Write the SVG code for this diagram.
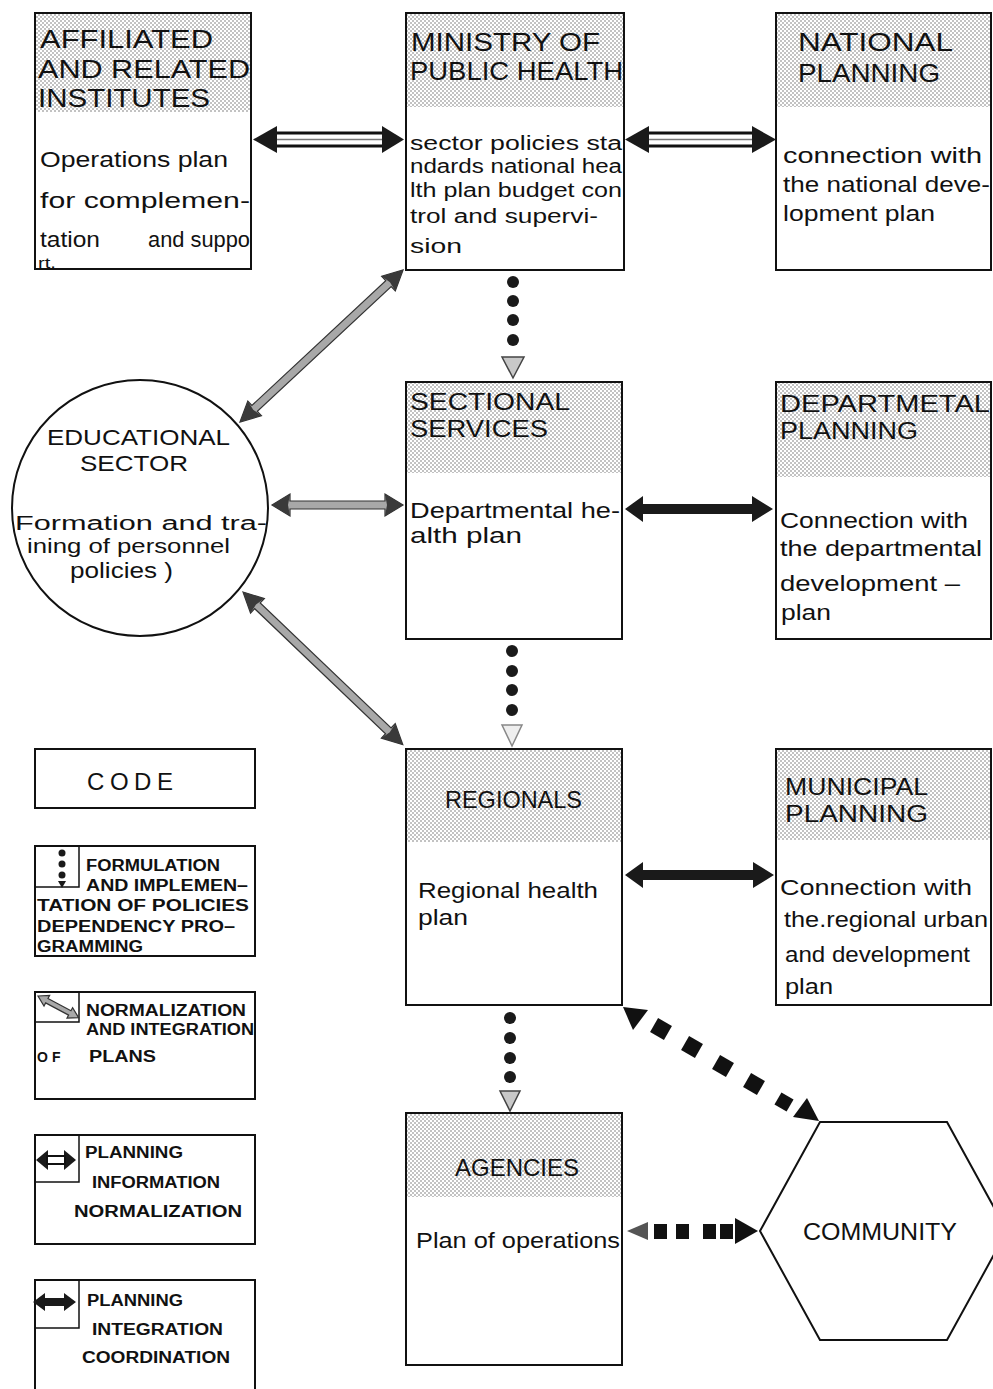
<svg xmlns="http://www.w3.org/2000/svg" width="993" height="1389" viewBox="0 0 993 1389">
<style>
.box{fill:#fff;stroke:#111;stroke-width:2}
.hd{fill:url(#stip);stroke:none}
text{font-family:"Liberation Sans",Arial,sans-serif;fill:#111}
.h{font-size:26px}
.h2{font-size:23px}
.t{font-size:22px}
.m{font-size:20px}
.c{font-size:24px}
.l{font-size:16px;font-weight:bold}
.dot{fill:#1a1a1a}
.tri{fill:#c8c8c8;stroke:#444;stroke-width:1.5}
.solid{fill:#1a1a1a}
.grey{fill:#a8a8a8;stroke:#333;stroke-width:1.2}
.ghead{fill:#3a3a3a}
.sq{fill:#111}
</style>
<defs>
<pattern id="stip" width="4" height="4" patternUnits="userSpaceOnUse">
<rect width="4" height="4" fill="#fff"/>
<circle cx="1" cy="1" r="0.75" fill="#666"/>
<circle cx="3" cy="3" r="0.75" fill="#666"/>
</pattern>
</defs>

<!-- nodes -->
<g id="affiliated">
<rect class="box" x="35" y="13" width="216" height="256"/>
<rect class="hd" x="36" y="14" width="214" height="98"/>
<text class="h" x="40" y="48" textLength="173" lengthAdjust="spacingAndGlyphs">AFFILIATED</text>
<text class="h" x="38" y="78" textLength="212" lengthAdjust="spacingAndGlyphs">AND RELATED</text>
<text class="h" x="38" y="107" textLength="172" lengthAdjust="spacingAndGlyphs">INSTITUTES</text>
<text class="t" x="40" y="167" textLength="188" lengthAdjust="spacingAndGlyphs">Operations plan</text>
<text class="t" x="40" y="208" textLength="210" lengthAdjust="spacingAndGlyphs">for complemen-</text>
<text class="t" x="40" y="247" textLength="60" lengthAdjust="spacingAndGlyphs">tation</text>
<text class="t" x="148" y="247" textLength="102" lengthAdjust="spacingAndGlyphs">and suppo</text>
<text x="38" y="268" style="font-size:15px" textLength="18" lengthAdjust="spacingAndGlyphs">rt.</text>
</g>

<g id="ministry">
<rect class="box" x="406" y="13" width="218" height="257"/>
<rect class="hd" x="407" y="14" width="216" height="93"/>
<text class="h" x="411" y="51" textLength="189" lengthAdjust="spacingAndGlyphs">MINISTRY OF</text>
<text class="h" x="410" y="80" textLength="213" lengthAdjust="spacingAndGlyphs">PUBLIC HEALTH</text>
<text class="m" x="410" y="150" textLength="212" lengthAdjust="spacingAndGlyphs">sector policies sta</text>
<text class="m" x="410" y="173" textLength="212" lengthAdjust="spacingAndGlyphs">ndards national hea</text>
<text class="m" x="410" y="197" textLength="212" lengthAdjust="spacingAndGlyphs">lth plan budget con</text>
<text class="m" x="410" y="223" textLength="188" lengthAdjust="spacingAndGlyphs">trol and supervi-</text>
<text class="m" x="410" y="253" textLength="52" lengthAdjust="spacingAndGlyphs">sion</text>
</g>

<g id="national">
<rect class="box" x="776" y="13" width="215" height="257"/>
<rect class="hd" x="777" y="14" width="213" height="93"/>
<text class="h" x="798" y="51" textLength="155" lengthAdjust="spacingAndGlyphs">NATIONAL</text>
<text class="h" x="798" y="82" textLength="142" lengthAdjust="spacingAndGlyphs">PLANNING</text>
<text class="t" x="783" y="163" textLength="199" lengthAdjust="spacingAndGlyphs">connection with</text>
<text class="t" x="783" y="192" textLength="207" lengthAdjust="spacingAndGlyphs">the national deve-</text>
<text class="t" x="783" y="221" textLength="152" lengthAdjust="spacingAndGlyphs">lopment plan</text>
</g>

<g id="sectional">
<rect class="box" x="406" y="382" width="216" height="257"/>
<rect class="hd" x="407" y="383" width="214" height="90"/>
<text class="h2" x="410" y="410" textLength="160" lengthAdjust="spacingAndGlyphs">SECTIONAL</text>
<text class="h2" x="410" y="437" textLength="138" lengthAdjust="spacingAndGlyphs">SERVICES</text>
<text class="t" x="410" y="518" textLength="210" lengthAdjust="spacingAndGlyphs">Departmental he-</text>
<text class="t" x="410" y="543" textLength="112" lengthAdjust="spacingAndGlyphs">alth plan</text>
</g>

<g id="departmental">
<rect class="box" x="776" y="382" width="215" height="257"/>
<rect class="hd" x="777" y="383" width="213" height="94"/>
<text class="h2" x="780" y="412" textLength="210" lengthAdjust="spacingAndGlyphs">DEPARTMETAL</text>
<text class="h2" x="780" y="439" textLength="138" lengthAdjust="spacingAndGlyphs">PLANNING</text>
<text class="t" x="780" y="528" textLength="188" lengthAdjust="spacingAndGlyphs">Connection with</text>
<text class="t" x="780" y="556" textLength="202" lengthAdjust="spacingAndGlyphs">the departmental</text>
<text class="t" x="780" y="591" textLength="180" lengthAdjust="spacingAndGlyphs">development –</text>
<text class="t" x="781" y="620" textLength="50" lengthAdjust="spacingAndGlyphs">plan</text>
</g>

<g id="regionals">
<rect class="box" x="406" y="749" width="216" height="256"/>
<rect class="hd" x="407" y="750" width="214" height="92"/>
<text class="c" x="445" y="808" textLength="137" lengthAdjust="spacingAndGlyphs">REGIONALS</text>
<text class="t" x="418" y="898" textLength="180" lengthAdjust="spacingAndGlyphs">Regional health</text>
<text class="t" x="418" y="925" textLength="50" lengthAdjust="spacingAndGlyphs">plan</text>
</g>

<g id="municipal">
<rect class="box" x="776" y="749" width="215" height="256"/>
<rect class="hd" x="777" y="750" width="213" height="90"/>
<text class="h2" x="785" y="795" textLength="143" lengthAdjust="spacingAndGlyphs">MUNICIPAL</text>
<text class="h2" x="785" y="822" textLength="143" lengthAdjust="spacingAndGlyphs">PLANNING</text>
<text class="t" x="780" y="895" textLength="192" lengthAdjust="spacingAndGlyphs">Connection with</text>
<text class="t" x="784" y="927" textLength="204" lengthAdjust="spacingAndGlyphs">the.regional urban</text>
<text class="t" x="785" y="962" textLength="185" lengthAdjust="spacingAndGlyphs">and development</text>
<text class="t" x="785" y="994" textLength="48" lengthAdjust="spacingAndGlyphs">plan</text>
</g>

<g id="agencies">
<rect class="box" x="406" y="1113" width="216" height="252"/>
<rect class="hd" x="407" y="1114" width="214" height="83"/>
<text class="c" x="455" y="1176" textLength="124" lengthAdjust="spacingAndGlyphs">AGENCIES</text>
<text class="t" x="416" y="1248" textLength="204" lengthAdjust="spacingAndGlyphs">Plan of operations</text>
</g>

<g id="educational">
<circle cx="140" cy="508" r="128" fill="#fff" stroke="#111" stroke-width="2"/>
<text x="47" y="445" style="font-size:22px" textLength="183" lengthAdjust="spacingAndGlyphs">EDUCATIONAL</text>
<text x="80" y="471" style="font-size:22px" textLength="108" lengthAdjust="spacingAndGlyphs">SECTOR</text>
<text x="15" y="530" style="font-size:20px" textLength="252" lengthAdjust="spacingAndGlyphs">Formation  and tra-</text>
<text x="27" y="553" style="font-size:20px" textLength="203" lengthAdjust="spacingAndGlyphs">ining of personnel</text>
<text x="70" y="578" style="font-size:22px" textLength="103" lengthAdjust="spacingAndGlyphs">policies )</text>
</g>

<g id="community">
<polygon points="760,1231 820,1122 947,1122 1007,1231 947,1340 820,1340" fill="#fff" stroke="#111" stroke-width="2"/>
<text class="c" x="803" y="1240" textLength="154" lengthAdjust="spacingAndGlyphs">COMMUNITY</text>
</g>

<!-- legend -->
<g id="legend-code">
<rect class="box" x="35" y="749" width="220" height="59"/>
<text class="c" x="87" y="790" letter-spacing="6" textLength="92" lengthAdjust="spacing">CODE</text>
</g>
<g id="legend-formulation">
<rect class="box" x="35" y="846" width="220" height="110"/>
<rect x="35" y="846" width="44" height="41" fill="none" stroke="#111" stroke-width="1.5"/>
<circle class="dot" cx="62" cy="853" r="3.5"/>
<circle class="dot" cx="62" cy="864" r="3.5"/>
<circle class="dot" cx="62" cy="875" r="3.5"/>
<polygon class="solid" points="58,881 66,881 62,888"/>
<text class="l" x="86" y="871" textLength="134" lengthAdjust="spacingAndGlyphs">FORMULATION</text>
<text class="l" x="86" y="891" textLength="162" lengthAdjust="spacingAndGlyphs">AND IMPLEMEN–</text>
<text class="l" x="37" y="911" textLength="212" lengthAdjust="spacingAndGlyphs">TATION OF POLICIES</text>
<text class="l" x="37" y="932" textLength="198" lengthAdjust="spacingAndGlyphs">DEPENDENCY PRO–</text>
<text class="l" x="37" y="952" textLength="106" lengthAdjust="spacingAndGlyphs">GRAMMING</text>
</g>
<g id="legend-normalization">
<rect class="box" x="35" y="992" width="220" height="107"/>
<rect x="35" y="992" width="44" height="30" fill="none" stroke="#111" stroke-width="1.5"/>
<g transform="translate(38,996) rotate(28)">
<polygon class="grey" points="0,0 10,-6 10,-2.5 36,-2.5 36,-6 46,0 36,6 36,2.5 10,2.5 10,6"/>
</g>
<text class="l" x="86" y="1016" textLength="160" lengthAdjust="spacingAndGlyphs">NORMALIZATION</text>
<text class="l" x="86" y="1035" textLength="168" lengthAdjust="spacingAndGlyphs">AND INTEGRATION</text>
<text class="l" x="37" y="1062" style="font-size:14px" letter-spacing="4">OF</text>
<text class="l" x="89" y="1062" textLength="67" lengthAdjust="spacingAndGlyphs">PLANS</text>
</g>
<g id="legend-information">
<rect class="box" x="35" y="1135" width="220" height="109"/>
<rect x="35" y="1135" width="44" height="47" fill="none" stroke="#111" stroke-width="1.5"/>
<polygon class="solid" points="36,1160 48,1150 48,1170"/>
<polygon class="solid" points="76,1160 64,1150 64,1170"/>
<rect x="47" y="1156" width="18" height="8" fill="#fff" stroke="#111" stroke-width="2"/>
<text class="l" x="85" y="1158" textLength="98" lengthAdjust="spacingAndGlyphs">PLANNING</text>
<text class="l" x="92" y="1188" textLength="128" lengthAdjust="spacingAndGlyphs">INFORMATION</text>
<text class="l" x="74" y="1217" textLength="168" lengthAdjust="spacingAndGlyphs">NORMALIZATION</text>
</g>
<g id="legend-integration">
<path d="M35,1389 V1280 H255 V1389" fill="#fff" stroke="#111" stroke-width="2"/>
<rect x="35" y="1280" width="44" height="48" fill="none" stroke="#111" stroke-width="1.5"/>
<polygon class="solid" points="33,1302 45,1293 45,1298 64,1298 64,1293 76,1302 64,1311 64,1306 45,1306 45,1311"/>
<text class="l" x="87" y="1306" textLength="96" lengthAdjust="spacingAndGlyphs">PLANNING</text>
<text class="l" x="92" y="1335" textLength="131" lengthAdjust="spacingAndGlyphs">INTEGRATION</text>
<text class="l" x="82" y="1363" textLength="148" lengthAdjust="spacingAndGlyphs">COORDINATION</text>
</g>

<!-- connectors -->
<g id="connectors">
<g id="c-aff-min">
<rect x="273" y="133" width="115" height="13" fill="#fff" stroke="#111" stroke-width="3"/>
<line x1="275" y1="139.5" x2="386" y2="139.5" stroke="#777" stroke-width="1.5"/>
<polygon class="solid" points="253,139.5 277,126 277,153"/>
<polygon class="solid" points="404,139.5 382,126 382,153"/>
</g>
<g id="c-min-nat">
<rect x="645" y="133" width="112" height="13" fill="#fff" stroke="#111" stroke-width="3"/>
<line x1="647" y1="139.5" x2="755" y2="139.5" stroke="#777" stroke-width="1.5"/>
<polygon class="solid" points="625,139.5 649,126 649,153"/>
<polygon class="solid" points="776,139.5 752,126 752,153"/>
</g>
<polygon id="c-sec-dep" class="solid" points="625,509 643,496 643,504 752,504 752,496 773,509 752,522 752,514 643,514 643,522"/>
<polygon id="c-reg-mun" class="solid" points="625,875 643,862 643,870 753,870 753,862 774,875 753,888 753,880 643,880 643,888"/>
<g id="c-edu-min" transform="translate(240,422) rotate(-43)">
<polygon class="grey" points="0,0 20,-10 20,-4 203,-4 203,-10 223,0 203,10 203,4 20,4 20,10"/>
<polygon class="ghead" points="0,0 20,-10 18,0 20,10"/>
<polygon class="ghead" points="223,0 203,-10 205,0 203,10"/>
</g>
<g id="c-edu-reg" transform="translate(243,592) rotate(43.7)">
<polygon class="grey" points="0,0 20,-10 20,-4 201,-4 201,-10 221,0 201,10 201,4 20,4 20,10"/>
<polygon class="ghead" points="0,0 20,-10 18,0 20,10"/>
<polygon class="ghead" points="221,0 201,-10 203,0 201,10"/>
</g>
<g id="c-edu-sec" transform="translate(272,505)">
<polygon class="grey" points="0,0 18,-11 18,-4 113,-4 113,-11 131,0 113,11 113,4 18,4 18,11"/>
<polygon class="ghead" points="0,0 18,-11 16,0 18,11"/>
<polygon class="ghead" points="131,0 113,-11 115,0 113,11"/>
</g>
<g id="c-min-sec">
<circle class="dot" cx="513" cy="282" r="6"/>
<circle class="dot" cx="513" cy="301" r="6"/>
<circle class="dot" cx="513" cy="320" r="6"/>
<circle class="dot" cx="513" cy="340" r="6"/>
<polygon class="tri" points="502,357 524,357 513,378"/>
</g>
<g id="c-sec-reg">
<circle class="dot" cx="512" cy="651" r="6"/>
<circle class="dot" cx="512" cy="671" r="6"/>
<circle class="dot" cx="512" cy="690" r="6"/>
<circle class="dot" cx="512" cy="710" r="6"/>
<polygon class="tri" points="502,725 522,725 512,746" style="fill:#eee;stroke:#888"/>
</g>
<g id="c-reg-age">
<circle class="dot" cx="510" cy="1018" r="6"/>
<circle class="dot" cx="510" cy="1038" r="6"/>
<circle class="dot" cx="510" cy="1058" r="6"/>
<circle class="dot" cx="510" cy="1077" r="6"/>
<polygon class="tri" points="500,1091 520,1091 510,1111"/>
</g>
<g id="c-reg-com">
<polygon class="sq" points="623,1007 648,1010 633,1030"/>
<rect class="sq" x="-8" y="-8" width="16" height="16" transform="translate(661,1029) rotate(30)"/>
<rect class="sq" x="-8" y="-8" width="16" height="16" transform="translate(692,1047) rotate(30)"/>
<rect class="sq" x="-8" y="-8" width="16" height="16" transform="translate(723,1066) rotate(30)"/>
<rect class="sq" x="-8" y="-8" width="16" height="16" transform="translate(754,1084) rotate(30)"/>
<rect class="sq" x="-7" y="-7" width="14" height="14" transform="translate(784,1102) rotate(30)"/>
<polygon class="sq" points="819,1121 793,1117 807,1098"/>
</g>
<g id="c-age-com">
<polygon class="sq" points="627,1231 648,1222 648,1240" style="fill:#555"/>
<rect class="sq" x="654" y="1224" width="13" height="15"/>
<rect class="sq" x="676" y="1224" width="13" height="15"/>
<rect class="sq" x="703" y="1224" width="13" height="15"/>
<rect class="sq" x="720" y="1224" width="13" height="15"/>
<polygon class="sq" points="758,1231 735,1218 735,1244"/>
</g>
</g>
</svg>
